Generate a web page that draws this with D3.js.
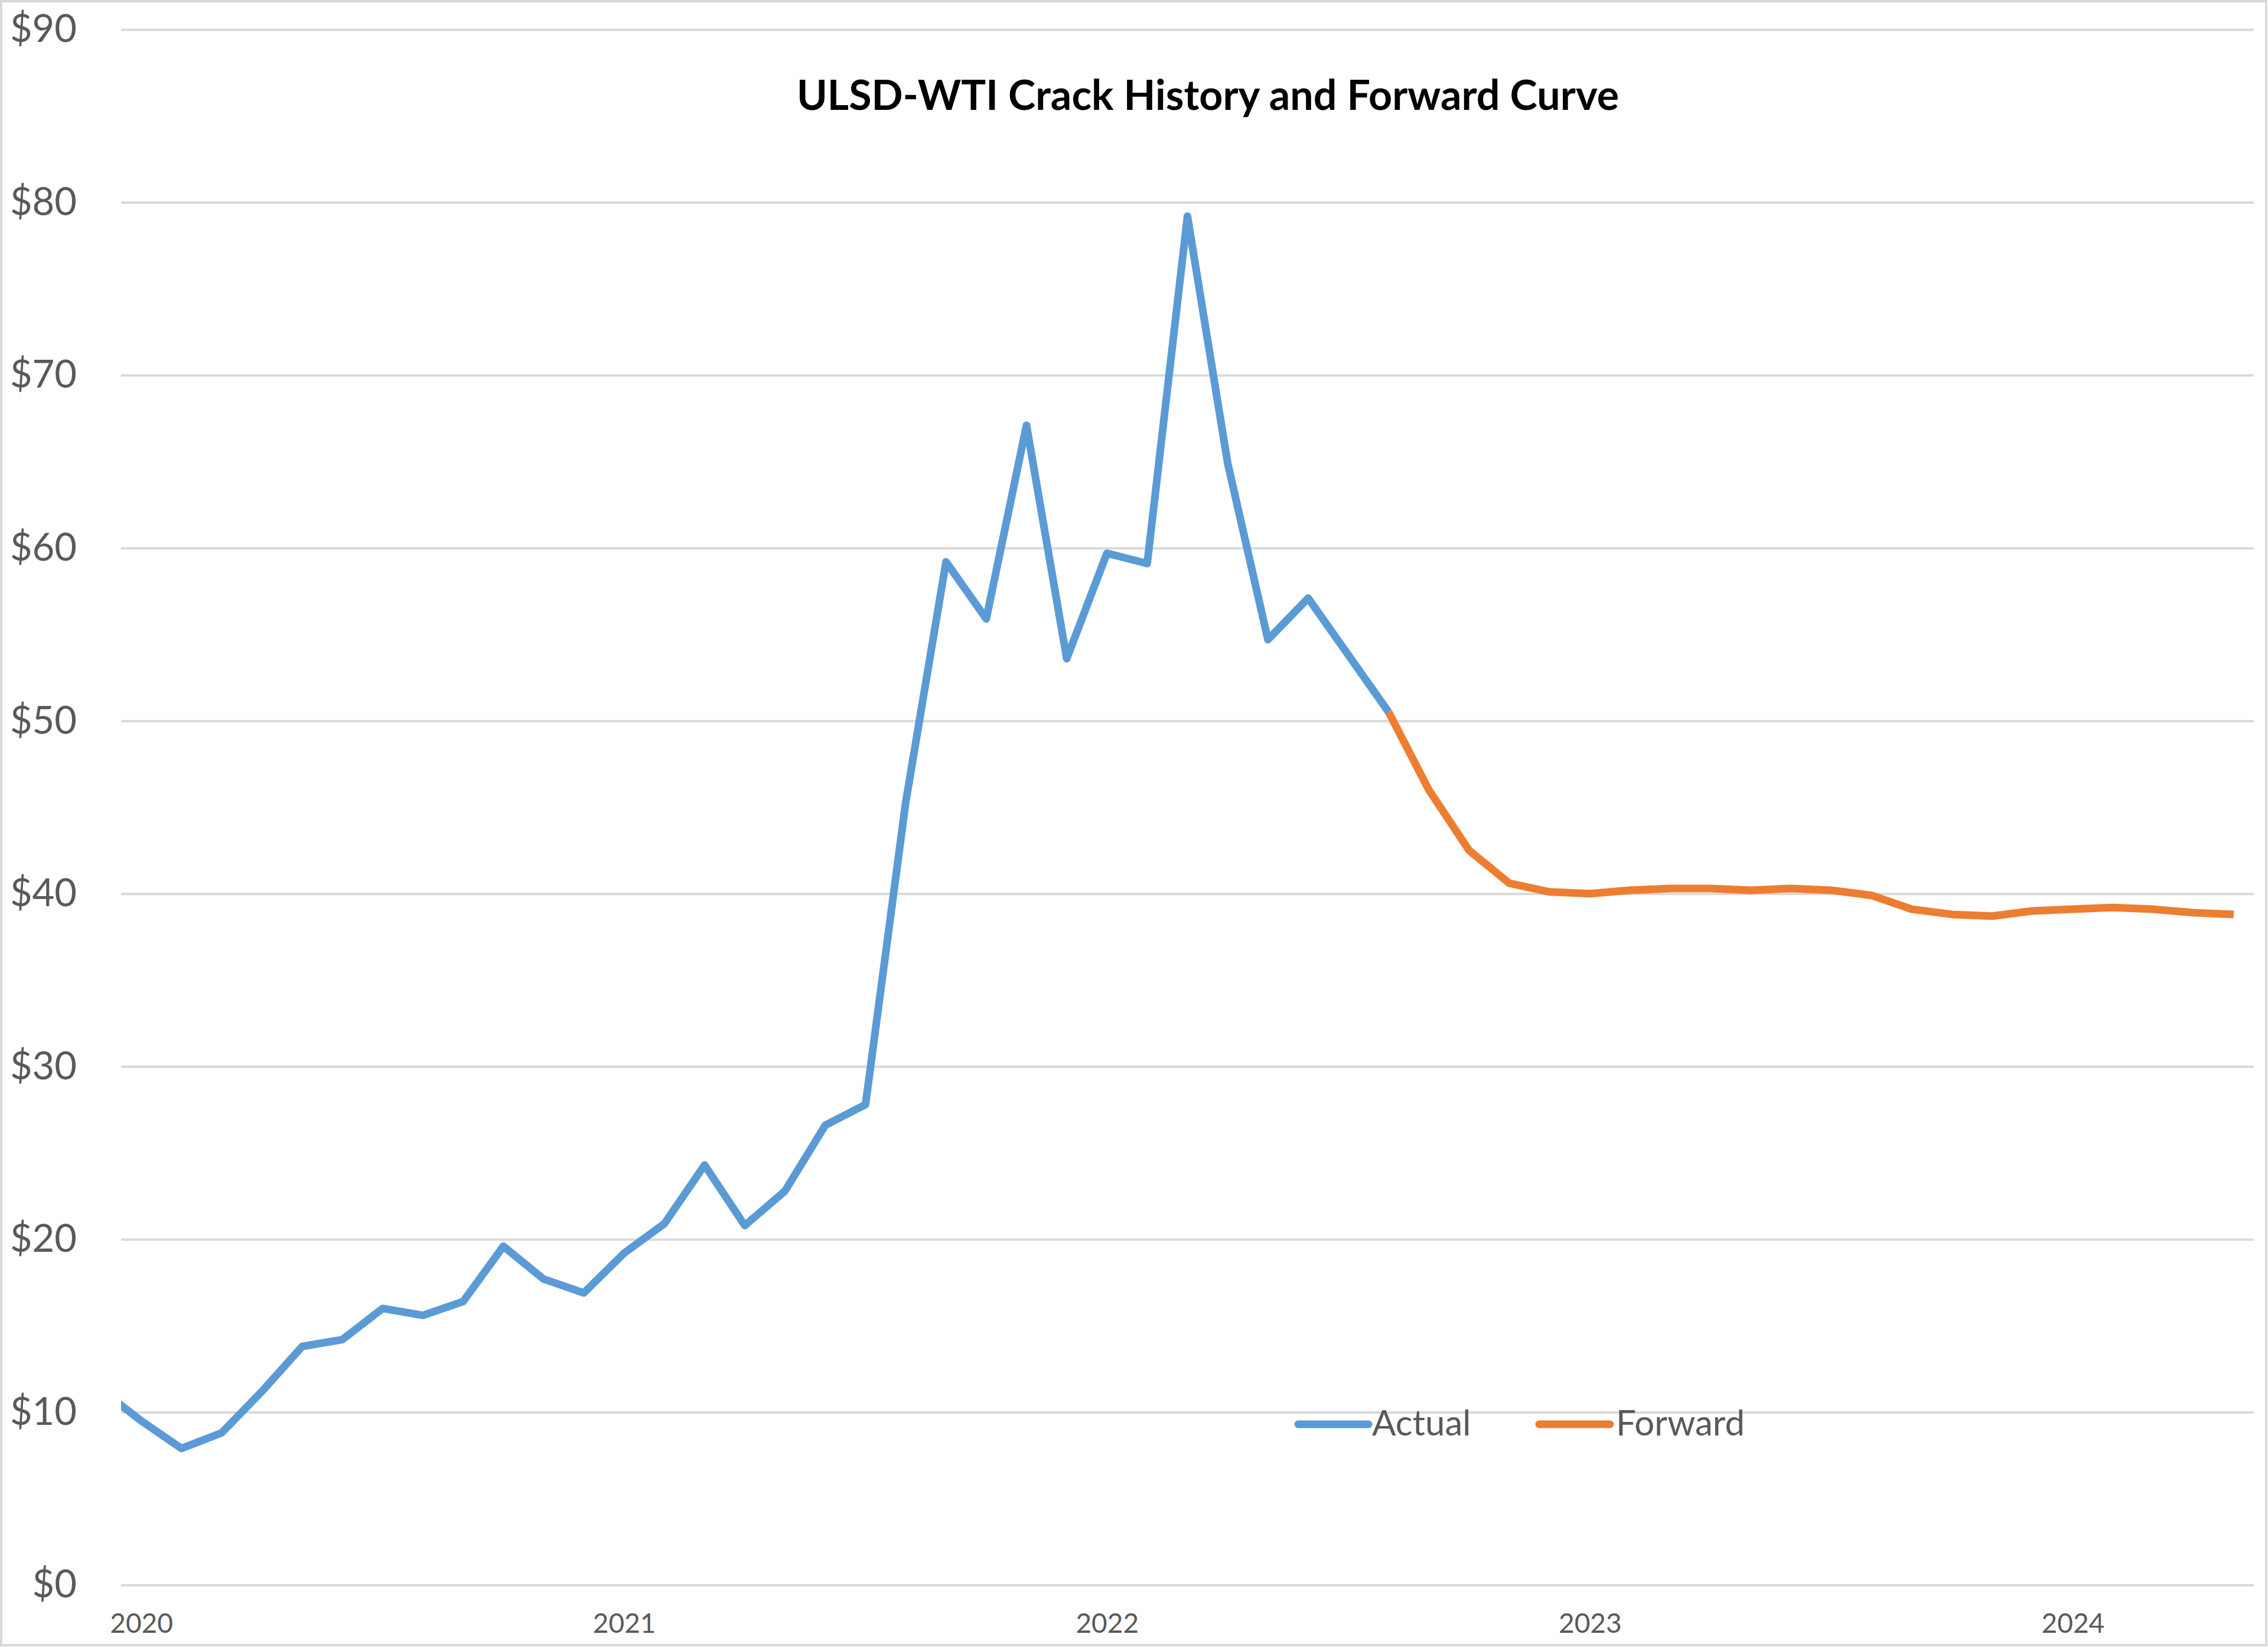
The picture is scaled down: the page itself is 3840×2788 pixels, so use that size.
<!DOCTYPE html>
<html>
<head>
<meta charset="utf-8">
<script src="https://cdn.jsdelivr.net/npm/d3@7"></script>
<style>
  html, body { margin: 0; padding: 0; background: #ffffff; }
  svg { display: block; }
  text { font-family: Lato, "Open Sans", sans-serif; }
</style>
</head>
<body>
<script>
// ---- data ----
const months = [
  "2019-12",
  "2020-01","2020-02","2020-03","2020-04","2020-05","2020-06","2020-07","2020-08","2020-09","2020-10","2020-11","2020-12",
  "2021-01","2021-02","2021-03","2021-04","2021-05","2021-06","2021-07","2021-08","2021-09","2021-10","2021-11","2021-12",
  "2022-01","2022-02","2022-03","2022-04","2022-05","2022-06","2022-07","2022-08","2022-09","2022-10","2022-11","2022-12",
  "2023-01","2023-02","2023-03","2023-04","2023-05","2023-06","2023-07","2023-08","2023-09","2023-10","2023-11","2023-12",
  "2024-01","2024-02","2024-03","2024-04","2024-05"
];
const actualStart = "2019-12";
const actualValues = [
  11.3,
  9.5, 7.9, 8.8, 11.2, 13.8, 14.2, 16.0, 15.6, 16.4, 19.6, 17.7, 16.9,
  19.2, 20.9, 24.3, 20.8, 22.8, 26.6, 27.8, 45.3, 59.2, 55.9, 67.1, 53.6,
  59.7, 59.1, 79.2, 64.9, 54.7, 57.1, 53.8, 50.5
];
const forwardStart = "2022-08";
const forwardValues = [
  50.5, 46.0, 42.5, 40.6, 40.1,
  40.0, 40.2, 40.3, 40.3, 40.2, 40.3, 40.2, 39.9, 39.1, 38.8, 38.7, 39.0,
  39.1, 39.2, 39.1, 38.9, 38.8
];
const yearLabels = ["2020", "2021", "2022", "2023", "2024"];
const yTicks = [0, 10, 20, 30, 40, 50, 60, 70, 80, 90];
const seriesNames = ["Actual", "Forward"];
const titleText = "ULSD-WTI Crack History and Forward Curve";

// ---- layout ----
const W = 3840, H = 2788;
const plot = { left: 205, right: 3816, top: 50, bottom: 2683 };
const colors = { Actual: "#5B9BD5", Forward: "#ED7D31" };
const grid = "#d9d9d9", textCol = "#595959";

const svg = d3.select("body").append("svg").attr("width", W).attr("height", H);
svg.append("rect").attr("x", 2).attr("y", 2).attr("width", W - 5).attr("height", H - 5)
  .attr("fill", "#fff").attr("stroke", grid).attr("stroke-width", 4);

// x: month index, first visible category (Jan 2020) at band centre
const idx = m => months.indexOf(m);
const x = d3.scaleLinear().domain([idx("2020-01") - 0.5, months.length - 0.5])
  .range([plot.left, plot.right]);
const y = d3.scaleLinear().domain([0, 90]).range([plot.bottom, plot.top]);

// y axis + gridlines
const yAxis = svg.append("g").attr("transform", `translate(${plot.left},0)`)
  .call(d3.axisLeft(y).tickValues(yTicks).tickFormat(d => "$" + d)
    .tickSize(-(plot.right - plot.left)).tickPadding(75));
yAxis.select(".domain").remove();
yAxis.selectAll(".tick line").attr("stroke", grid).attr("stroke-width", 4);
yAxis.selectAll(".tick text").attr("fill", textCol).style("font-size", "65px")
  .style("font-family", "Lato, sans-serif");

// x axis labels (year, at January)
const xAxis = svg.append("g").attr("transform", `translate(0,${plot.bottom})`)
  .call(d3.axisBottom(x).tickValues(yearLabels.map(yr => idx(yr + "-01")))
    .tickFormat(i => months[i].slice(0, 4)).tickSize(0).tickPadding(48));
xAxis.select(".domain").remove();
xAxis.selectAll(".tick text").attr("fill", textCol).style("font-size", "46px")
  .style("font-family", "Lato, sans-serif");

// clip
svg.append("clipPath").attr("id", "plotclip").append("rect")
  .attr("x", plot.left).attr("y", 0).attr("width", plot.right - plot.left).attr("height", H);

const line = d3.line().x(d => x(d.i)).y(d => y(d.v));
const actualData = actualValues.map((v, k) => ({ i: idx(actualStart) + k, v }));
const forwardData = forwardValues.map((v, k) => ({ i: idx(forwardStart) + k, v }));

const lines = svg.append("g").attr("clip-path", "url(#plotclip)");
[[actualData, "Actual"], [forwardData, "Forward"]].forEach(([data, name]) => {
  lines.append("path").datum(data).attr("d", line)
    .attr("fill", "none").attr("stroke", colors[name]).attr("stroke-width", 13)
    .attr("stroke-linejoin", "round").attr("stroke-linecap", "butt");
});

// title
svg.append("text").attr("x", 2045).attr("y", 186).attr("text-anchor", "middle")
  .style("font-size", "70px").style("font-weight", "bold").attr("fill", "#000")
  .text(titleText);

// legend
const legendItems = [
  { name: seriesNames[0], x1: 2198, x2: 2317, tx: 2323 },
  { name: seriesNames[1], x1: 2606, x2: 2726, tx: 2736 }
];
const lg = svg.append("g");
legendItems.forEach(it => {
  lg.append("line").attr("x1", it.x1).attr("x2", it.x2).attr("y1", 2411).attr("y2", 2411)
    .attr("stroke", colors[it.name]).attr("stroke-width", 13).attr("stroke-linecap", "round");
  lg.append("text").attr("x", it.tx).attr("y", 2430).attr("fill", textCol)
    .style("font-size", "60px").text(it.name);
});
</script>
</body>
</html>
